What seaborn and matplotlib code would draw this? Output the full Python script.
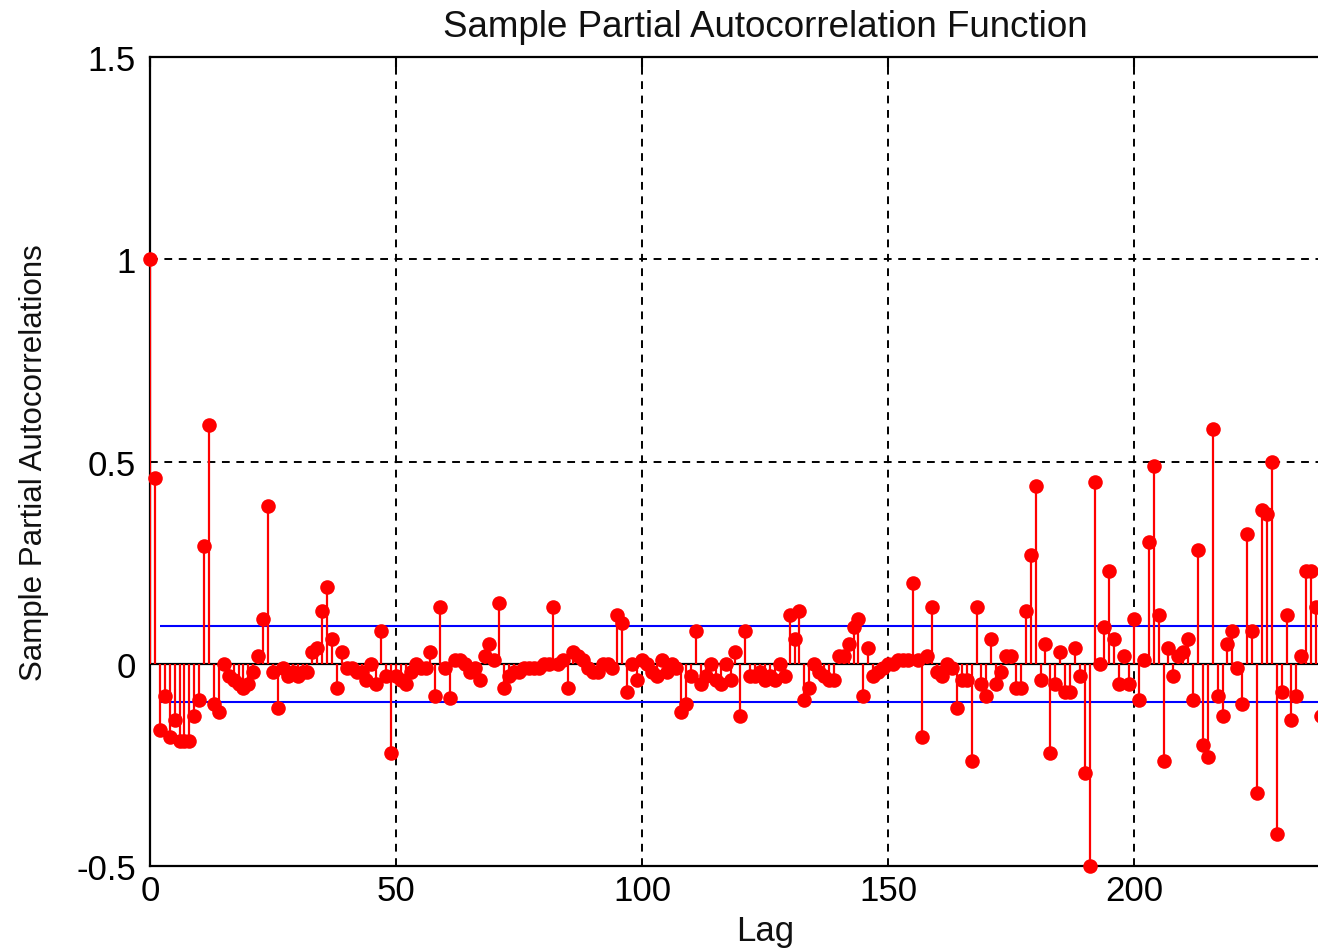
import numpy as np
import pandas as pd
import matplotlib
matplotlib.use("Agg")
import matplotlib.pyplot as plt
import seaborn as sns

# ---------------- data ----------------
lags = list(range(0, 240))
pacf = [
    1.0, 0.46, -0.165, -0.08, -0.18, -0.14, -0.19, -0.19, -0.19, -0.13,
    -0.09, 0.29, 0.59, -0.10, -0.12, 0.0, -0.03, -0.04, -0.05, -0.06,
    -0.05, -0.02, 0.02, 0.11, 0.39, -0.02, -0.11, -0.01, -0.03, -0.02,
    -0.03, -0.02, -0.02, 0.03, 0.04, 0.13, 0.19, 0.06, -0.06, 0.03,
    -0.01, -0.01, -0.02, -0.02, -0.04, 0.0, -0.05, 0.08, -0.03, -0.22,
    -0.03, -0.04, -0.05, -0.02, 0.0, -0.01, -0.01, 0.03, -0.08, 0.14,
    -0.01, -0.085, 0.01, 0.01, 0.0, -0.02, -0.01, -0.04, 0.02, 0.05,
    0.01, 0.15, -0.06, -0.03, -0.02, -0.02, -0.01, -0.01, -0.01, -0.01,
    0.0, 0.0, 0.14, 0.0, 0.01, -0.06, 0.03, 0.02, 0.01, -0.01,
    -0.02, -0.02, 0.0, 0.0, -0.01, 0.12, 0.10, -0.07, 0.0, -0.04,
    0.01, 0.0, -0.02, -0.03, 0.01, -0.02, 0.0, -0.01, -0.12, -0.10,
    -0.03, 0.08, -0.05, -0.03, 0.0, -0.04, -0.05, 0.0, -0.04, 0.03,
    -0.13, 0.08, -0.03, -0.03, -0.02, -0.04, -0.03, -0.04, 0.0, -0.03,
    0.12, 0.06, 0.13, -0.09, -0.06, 0.0, -0.02, -0.03, -0.04, -0.04,
    0.02, 0.02, 0.05, 0.09, 0.11, -0.08, 0.04, -0.03, -0.02, -0.01,
    0.0, 0.0, 0.01, 0.01, 0.01, 0.20, 0.01, -0.18, 0.02, 0.14,
    -0.02, -0.03, 0.0, -0.01, -0.11, -0.04, -0.04, -0.24, 0.14, -0.05,
    -0.08, 0.06, -0.05, -0.02, 0.02, 0.02, -0.06, -0.06, 0.13, 0.27,
    0.44, -0.04, 0.05, -0.22, -0.05, 0.03, -0.07, -0.07, 0.04, -0.03,
    -0.27, -0.50, 0.45, 0.0, 0.09, 0.23, 0.06, -0.05, 0.02, -0.05,
    0.11, -0.09, 0.01, 0.30, 0.49, 0.12, -0.24, 0.04, -0.03, 0.02,
    0.03, 0.06, -0.09, 0.28, -0.20, -0.23, 0.58, -0.08, -0.13, 0.05,
    0.08, -0.01, -0.10, 0.32, 0.08, -0.32, 0.38, 0.37, 0.50, -0.42,
    -0.07, 0.12, -0.14, -0.08, 0.02, 0.23, 0.23, 0.14, -0.13, 0.57,
]
conf_bound = 0.094
bound_start = 2
x_ticks = [0, 50, 100, 150, 200]
y_ticks = [-0.5, 0, 0.5, 1, 1.5]
y_ticklabels = ["-0.5", "0", "0.5", "1", "1.5"]
title = "Sample Partial Autocorrelation Function"
xlabel = "Lag"
ylabel = "Sample Partial Autocorrelations"

df = pd.DataFrame({"Lag": lags, "PACF": pacf})

# ---------------- style ----------------
sns.set_theme(style="white")
plt.rcParams["font.family"] = ["Liberation Sans", "DejaVu Sans"]

W, H = 1318, 953
fig = plt.figure(figsize=(W / 100, H / 100), dpi=100)
ax = fig.add_axes([150 / W, (H - 867) / H, (1380 - 150) / W, (867 - 58) / H])

# stems
ax.vlines(df["Lag"], 0, df["PACF"], colors="#ff0000", linewidth=1.6, zorder=3)
sns.scatterplot(data=df, x="Lag", y="PACF", ax=ax, color="#ff0000",
                s=110, edgecolor="#ff0000", linewidth=0, zorder=4,
                clip_on=False, legend=False)

# zero line and confidence bounds
ax.axhline(0, color="black", linewidth=1.6, zorder=2)
ax.hlines([conf_bound, -conf_bound], bound_start, 250, colors="#0000ff",
          linewidth=1.5, zorder=2)

ax.set_xlim(0, 250)
ax.set_ylim(-0.5, 1.5)
ax.set_xticks(x_ticks + [250])
ax.set_xticklabels([str(t) for t in x_ticks] + [""])
ax.set_yticks(y_ticks)
ax.set_yticklabels(y_ticklabels)

ax.grid(True, color="black", linestyle=(0, (4.0, 3.4)), linewidth=1.4)
ax.set_axisbelow(True)

for sp in ax.spines.values():
    sp.set_visible(True)
    sp.set_color("black")
    sp.set_linewidth(1.6)

ax.tick_params(axis="both", direction="in", length=7, width=1.5,
               colors="black", labelsize=25, top=True, right=True)
ax.tick_params(axis="y", pad=10)
ax.tick_params(axis="x", pad=6)

ax.set_title(title, fontsize=26.5, pad=15, color="#111111")
ax.set_xlabel(xlabel, fontsize=25, labelpad=5, color="#111111")
ax.set_ylabel(ylabel, fontsize=22.5, labelpad=20, color="#111111")

fig.savefig("out.png", dpi=100)
